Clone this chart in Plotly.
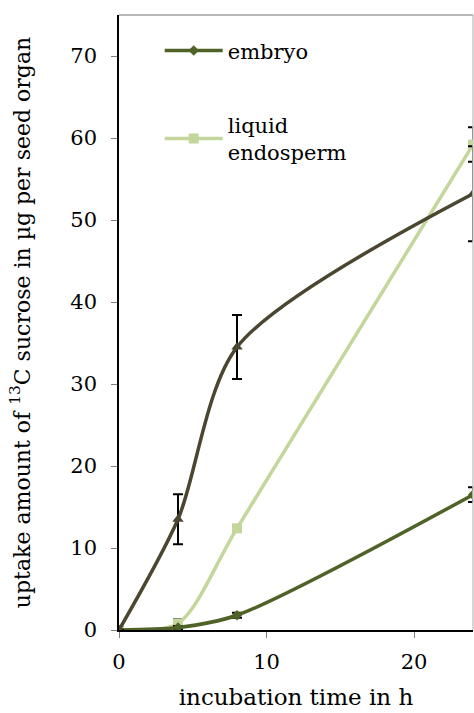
import plotly.graph_objects as go

# incubation times (h)
hours = [0, 4, 8, 24]

# 13C sucrose uptake (µg per seed organ)
total_vals = [0.0, 13.5, 34.5, 53.2]
total_err = [0.0, 3.05, 3.9, 5.8]

embryo_vals = [0.0, 0.3, 1.8, 16.5]
embryo_err = [0.0, 0.2, 0.3, 0.9]

endosperm_vals = [0.0, 0.8, 12.4, 59.2]
endosperm_err = [0.0, 0.5, 0.4, 2.1]

x_ticks = [0, 10, 20]
y_ticks = [0, 10, 20, 30, 40, 50, 60, 70]

FONT = "DejaVu Serif"
DARK = "#4b4630"
OLIVE = "#4f6228"
LIGHT = "#c3d69b"


def err(vals):
    return dict(type="data", array=vals, visible=True, color="black",
                thickness=2, width=5)


fig = go.Figure()

fig.add_trace(go.Scatter(
    x=hours, y=endosperm_vals, name="liquid<br>endosperm",
    mode="lines+markers", line=dict(color=LIGHT, width=3.5, shape="spline", smoothing=0.8),
    marker=dict(symbol="square", size=10, color=LIGHT),
    error_y=err(endosperm_err), legendgroup="b", legendrank=2,
))

fig.add_trace(go.Scatter(
    x=hours, y=embryo_vals, name="embryo",
    mode="lines+markers", line=dict(color=OLIVE, width=3.5, shape="spline", smoothing=0.8),
    marker=dict(symbol="diamond", size=8, color=OLIVE),
    error_y=err(embryo_err), legendgroup="a", legendrank=1,
))

fig.add_trace(go.Scatter(
    x=hours, y=total_vals, name="seed",
    mode="lines+markers", line=dict(color=DARK, width=3.5, shape="spline", smoothing=0.8),
    marker=dict(symbol="triangle-up", size=10, color=DARK),
    error_y=err(total_err), showlegend=False,
))

fig.update_layout(
    width=474, height=713,
    margin=dict(l=119, r=1, t=15, b=83),
    paper_bgcolor="white", plot_bgcolor="white",
    font=dict(family=FONT, size=20, color="black"),
    showlegend=True,
    legend=dict(
        x=0.115, y=0.975, xanchor="left", yanchor="top",
        bgcolor="rgba(0,0,0,0)", font=dict(family=FONT, size=21),
        tracegroupgap=44, itemwidth=58,
    ),
    xaxis=dict(
        range=[0, 24], tickvals=x_ticks, ticks="outside", ticklen=6,
        tickcolor="#7f7f7f", showgrid=False, zeroline=False,
        showline=True, linecolor="black", linewidth=1.5, mirror=False,
        title=dict(text="incubation time in h", font=dict(family=FONT, size=23), standoff=16),
        tickfont=dict(family=FONT, size=21), ticklabelstandoff=6,
    ),
    yaxis=dict(
        range=[0, 75], tickvals=y_ticks, ticks="outside", ticklen=6,
        tickcolor="#7f7f7f", showgrid=False, zeroline=False,
        showline=True, linecolor="black", linewidth=1.5,
        title=dict(text="uptake amount of <sup>13</sup>C sucrose in µg per seed organ",
                   font=dict(family=FONT, size=22), standoff=34),
        tickfont=dict(family=FONT, size=21), ticklabelstandoff=10,
    ),
    shapes=[
        dict(type="line", xref="paper", yref="paper", x0=0, x1=1, y0=1, y1=1,
             line=dict(color="#a0a0a0", width=1.5)),
        dict(type="line", xref="paper", yref="paper", x0=1, x1=1, y0=0, y1=1,
             line=dict(color="#c8c8c8", width=1.5)),
    ],
)

fig.write_html("out.html")
